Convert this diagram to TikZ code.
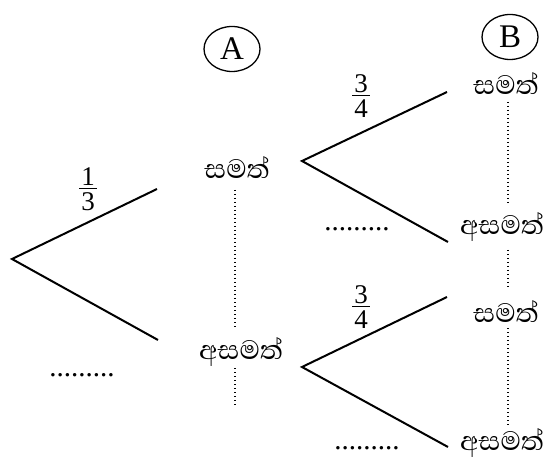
\documentclass[tikz,border=0pt]{standalone}
\usepackage{fontspec}
\usetikzlibrary{shapes.geometric}
\setmainfont{Liberation Serif}
\newfontfamily\sinhfont[Script=Sinhala]{Abhaya Libre}
\newcommand{\myfrac}[2]{\vbox{\offinterlineskip\halign{\hfil##\hfil\cr #1\cr\noalign{\kern2.5pt}\rule{18pt}{1.5pt}\cr\noalign{\kern3.5pt}#2\cr}}}
\begin{document}
\begin{tikzpicture}[x=1pt,y=-1pt,
  branch/.style={line width=2pt},
  dotline/.style={line width=1.1pt, dash pattern=on 1pt off 3pt},
  lbl/.style={font=\sinhfont\fontsize{34}{40}\selectfont, inner sep=0pt},
  frac/.style={font=\fontsize{27}{31}\selectfont, inner sep=0pt},
  gap/.style={font=\fontsize{29}{33}\selectfont, inner sep=0pt},
  hdr/.style={draw, line width=1.3pt, ellipse, minimum width=56pt, minimum height=45pt, font=\fontsize{33}{38}\selectfont, inner sep=0pt}]
\useasboundingbox (0,0) rectangle (546,462);
% headers
\node[hdr] (A) at (232,49) {A};
\node[hdr] (B) at (510,37) {B};
% first level
\coordinate (r0) at (12,259);
\coordinate (e1) at (157,189);
\coordinate (e2) at (158,340);
\draw[branch] (e1) -- (r0) -- (e2);
\node[frac] (f13) at (88,189) {\myfrac{1}{3}};
\node[gap] (d0) at (82,375) {.........};
% A labels
\node[lbl] (As) at (237,168) {සමත්};
\node[lbl] (Af) at (241,352) {අසමත්};
\coordinate (Ad1) at (235,190);
\coordinate (Ad2) at (235,330);
\coordinate (Ad3) at (235,368);
\coordinate (Ad4) at (235,405);
\draw[dotline] (Ad1) -- (Ad2);
\draw[dotline] (Ad3) -- (Ad4);
% second level upper
\coordinate (r1) at (302,161);
\coordinate (e11) at (447,92);
\coordinate (e12) at (448,242);
\draw[branch] (e11) -- (r1) -- (e12);
\node[frac] (f34a) at (361,96) {\myfrac{3}{4}};
\node[gap] (d1) at (357,229) {.........};
% second level lower
\coordinate (r2) at (302,367);
\coordinate (e21) at (447,297);
\coordinate (e22) at (448,447);
\draw[branch] (e21) -- (r2) -- (e22);
\node[frac] (f34b) at (361,307) {\myfrac{3}{4}};
\node[gap] (d2) at (367,448) {.........};
% B labels
\node[lbl] (Bs1) at (506,84) {සමත්};
\node[lbl] (Bf1) at (502,227) {අසමත්};
\node[lbl] (Bs2) at (506,312) {සමත්};
\node[lbl] (Bf2) at (502,443) {අසමත්};
\coordinate (Bd1) at (508,102);
\coordinate (Bd2) at (508,205);
\coordinate (Bd3) at (508,250);
\coordinate (Bd4) at (508,287);
\coordinate (Bd5) at (508,328);
\coordinate (Bd6) at (508,425);
\draw[dotline] (Bd1) -- (Bd2);
\draw[dotline] (Bd3) -- (Bd4);
\draw[dotline] (Bd5) -- (Bd6);
\end{tikzpicture}
\end{document}
